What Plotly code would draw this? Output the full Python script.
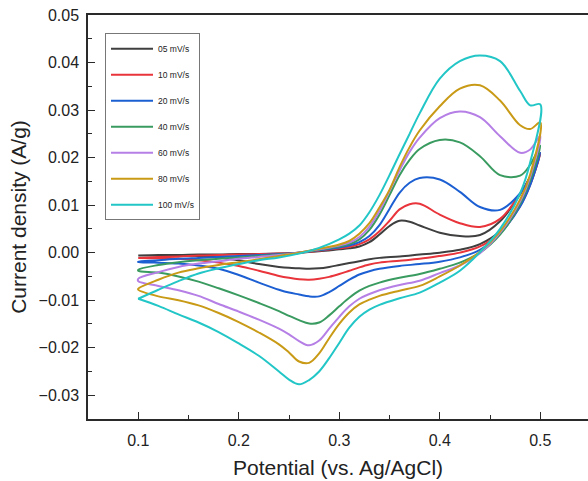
import plotly.graph_objects as go

# Potential grids (V vs. Ag/AgCl)
potential_forward = [0.10, 0.12, 0.14, 0.16, 0.18, 0.20, 0.22, 0.24, 0.26, 0.28, 0.30, 0.31, 0.32,
                     0.33, 0.34, 0.35, 0.36, 0.37, 0.38, 0.40, 0.42, 0.44, 0.46, 0.48, 0.49, 0.50]
potential_reverse = [0.50, 0.49, 0.48, 0.46, 0.44, 0.42, 0.40, 0.38, 0.36, 0.34, 0.33, 0.32, 0.31,
                     0.30, 0.29, 0.28, 0.27, 0.26, 0.25, 0.24, 0.22, 0.20, 0.18, 0.16, 0.14, 0.12, 0.10]

labels = ["05 mV/s", "10 mV/s", "20 mV/s", "40 mV/s", "60 mV/s", "80 mV/s", "100 mV/s"]
colors = ["#3f3f3f", "#e8343a", "#1c5fd2", "#3a9b60", "#b57fe6", "#c99a16", "#22c6c6"]

# Current density (A/g), anodic (forward) sweep
fwd_05 = [-0.0006, -0.0005, -0.0005, -0.0004, -0.0004, -0.0003, -0.0003, -0.0002, 0.0000, 0.0003, 0.0007, 0.0009, 0.0013,
          0.0022, 0.0038, 0.0056, 0.0067, 0.0065, 0.0057, 0.0042, 0.0035, 0.0037, 0.0066, 0.0123, 0.0160, 0.0210]
fwd_10 = [-0.0011, -0.0009, -0.0008, -0.0006, -0.0005, -0.0004, -0.0003, -0.0002, 0.0000, 0.0004, 0.0009, 0.0012, 0.0018,
          0.0028, 0.0045, 0.0067, 0.0091, 0.0102, 0.0103, 0.0080, 0.0062, 0.0054, 0.0071, 0.0124, 0.0160, 0.0208]
fwd_20 = [-0.0019, -0.0016, -0.0013, -0.0011, -0.0009, -0.0007, -0.0005, -0.0003, 0.0000, 0.0005, 0.0011, 0.0015, 0.0022,
          0.0035, 0.0058, 0.0092, 0.0126, 0.0147, 0.0157, 0.0154, 0.0128, 0.0096, 0.0090, 0.0125, 0.0160, 0.0210]
fwd_40 = [-0.0036, -0.0026, -0.0020, -0.0016, -0.0013, -0.0010, -0.0007, -0.0004, 0.0000, 0.0006, 0.0013, 0.0018, 0.0028,
          0.0048, 0.0080, 0.0121, 0.0163, 0.0195, 0.0218, 0.0237, 0.0232, 0.0203, 0.0163, 0.0162, 0.0185, 0.0225]
fwd_60 = [-0.0055, -0.0041, -0.0030, -0.0023, -0.0018, -0.0013, -0.0009, -0.0005, 0.0000, 0.0007, 0.0015, 0.0021, 0.0033,
          0.0055, 0.0088, 0.0130, 0.0173, 0.0212, 0.0242, 0.0283, 0.0297, 0.0285, 0.0245, 0.0210, 0.0217, 0.0246]
fwd_80 = [-0.0076, -0.0057, -0.0042, -0.0033, -0.0026, -0.0020, -0.0014, -0.0007, 0.0000, 0.0008, 0.0017, 0.0025, 0.0040,
          0.0062, 0.0095, 0.0132, 0.0180, 0.0222, 0.0257, 0.0308, 0.0345, 0.0352, 0.0320, 0.0268, 0.0260, 0.0274]
fwd_100 = [-0.0097, -0.0078, -0.0060, -0.0044, -0.0033, -0.0024, -0.0016, -0.0010, -0.0002, 0.0010, 0.0028, 0.0040, 0.0057,
           0.0085, 0.0121, 0.0163, 0.0207, 0.0250, 0.0293, 0.0366, 0.0403, 0.0415, 0.0403, 0.0340, 0.0310, 0.0312]

# Current density (A/g), cathodic (reverse) sweep
rev_05 = [0.0210, 0.0145, 0.0100, 0.0045, 0.0018, 0.0006, 0.0000, -0.0004, -0.0008, -0.0011, -0.0014, -0.0018, -0.0022,
          -0.0026, -0.0030, -0.0033, -0.0034, -0.0033, -0.0032, -0.0030, -0.0024, -0.0016, -0.0010, -0.0007, -0.0006, -0.0006, -0.0006]
rev_10 = [0.0208, 0.0143, 0.0098, 0.0042, 0.0013, 0.0000, -0.0007, -0.0013, -0.0017, -0.0021, -0.0025, -0.0031, -0.0038,
          -0.0045, -0.0051, -0.0055, -0.0057, -0.0056, -0.0053, -0.0049, -0.0038, -0.0028, -0.0021, -0.0016, -0.0013, -0.0012, -0.0011]
rev_20 = [0.0210, 0.0142, 0.0097, 0.0040, 0.0006, -0.0010, -0.0019, -0.0024, -0.0028, -0.0034, -0.0039, -0.0046, -0.0057,
          -0.0070, -0.0083, -0.0092, -0.0092, -0.0088, -0.0084, -0.0078, -0.0063, -0.0047, -0.0034, -0.0027, -0.0023, -0.0021, -0.0020]
rev_40 = [0.0225, 0.0152, 0.0103, 0.0038, 0.0000, -0.0021, -0.0034, -0.0045, -0.0053, -0.0063, -0.0070, -0.0080, -0.0095,
          -0.0113, -0.0132, -0.0147, -0.0149, -0.0142, -0.0133, -0.0123, -0.0106, -0.0090, -0.0075, -0.0061, -0.0050, -0.0042, -0.0038]
rev_60 = [0.0246, 0.0160, 0.0108, 0.0042, -0.0001, -0.0027, -0.0043, -0.0059, -0.0068, -0.0079, -0.0087, -0.0097, -0.0113,
          -0.0135, -0.0160, -0.0185, -0.0195, -0.0186, -0.0172, -0.0160, -0.0141, -0.0124, -0.0108, -0.0091, -0.0079, -0.0070, -0.0060]
rev_80 = [0.0274, 0.0165, 0.0112, 0.0045, 0.0002, -0.0027, -0.0050, -0.0070, -0.0080, -0.0091, -0.0099, -0.0109, -0.0126,
          -0.0150, -0.0180, -0.0212, -0.0232, -0.0229, -0.0210, -0.0193, -0.0168, -0.0146, -0.0127, -0.0111, -0.0100, -0.0092, -0.0078]
rev_100 = [0.0312, 0.0190, 0.0125, 0.0050, 0.0001, -0.0038, -0.0063, -0.0084, -0.0096, -0.0110, -0.0120, -0.0135, -0.0158,
           -0.0190, -0.0222, -0.0250, -0.0268, -0.0277, -0.0267, -0.0250, -0.0217, -0.0191, -0.0167, -0.0147, -0.0130, -0.0112, -0.0097]

forward = [fwd_05, fwd_10, fwd_20, fwd_40, fwd_60, fwd_80, fwd_100]
reverse = [rev_05, rev_10, rev_20, rev_40, rev_60, rev_80, rev_100]

y_ticks = [-0.03, -0.02, -0.01, 0.0, 0.01, 0.02, 0.03, 0.04, 0.05]
x_ticks = [0.1, 0.2, 0.3, 0.4, 0.5]

FONT = "Arial, 'Liberation Sans', sans-serif"
AXIS = "#2a2a2a"
TEXT = "#222222"

fig = go.Figure()
for i, lab in enumerate(labels):
    xs = potential_forward + potential_reverse[1:] + [potential_forward[0]]
    ys = forward[i] + reverse[i][1:] + [forward[i][0]]
    fig.add_trace(go.Scatter(
        x=xs, y=ys, mode="lines", name=lab, legendgroup=lab,
        line=dict(color=colors[i], width=2, shape="spline", smoothing=1.0),
    ))

fig.update_layout(
    width=588, height=481,
    margin=dict(l=88, r=0, t=15, b=62),
    paper_bgcolor="white", plot_bgcolor="white",
    font=dict(family=FONT, color=TEXT),
    showlegend=True,
    legend=dict(
        x=0.034, y=0.955, xanchor="left", yanchor="top",
        bgcolor="white", bordercolor="#777777", borderwidth=1,
        font=dict(size=8.5, family=FONT, color=TEXT),
        tracegroupgap=7, itemwidth=42,
    ),
)
fig.update_xaxes(
    range=[0.05, 0.5475], tickvals=x_ticks, tickformat=".1f", automargin=False,
    showgrid=False, zeroline=False,
    showline=True, linecolor=AXIS, linewidth=1.5, mirror=True,
    ticks="inside", ticklen=7, tickwidth=1.3, tickcolor=AXIS,
    minor=dict(dtick=0.05, tick0=0.05, ticks="inside", ticklen=4, tickwidth=1.2, tickcolor=AXIS),
    tickfont=dict(size=16, family=FONT, color=TEXT),
    ticklabelstandoff=6,
    title=dict(text="Potential (vs. Ag/AgCl)", font=dict(size=21, family=FONT, color=TEXT), standoff=12),
)
fig.update_yaxes(
    range=[-0.035, 0.05], tickvals=y_ticks, tickformat=".2f", automargin=False,
    showgrid=False, zeroline=False,
    showline=True, linecolor=AXIS, linewidth=1.5, mirror=False,
    ticks="inside", ticklen=7, tickwidth=1.3, tickcolor=AXIS,
    minor=dict(dtick=0.005, tick0=0.0, ticks="inside", ticklen=4, tickwidth=1.2, tickcolor=AXIS),
    tickfont=dict(size=16, family=FONT, color=TEXT),
    ticklabelstandoff=4,
    title=dict(text="Current density (A/g)", font=dict(size=21, family=FONT, color=TEXT), standoff=6),
)

fig.write_html("out.html", config={"displayModeBar": False},
               post_script="document.body.style.margin='0';")
